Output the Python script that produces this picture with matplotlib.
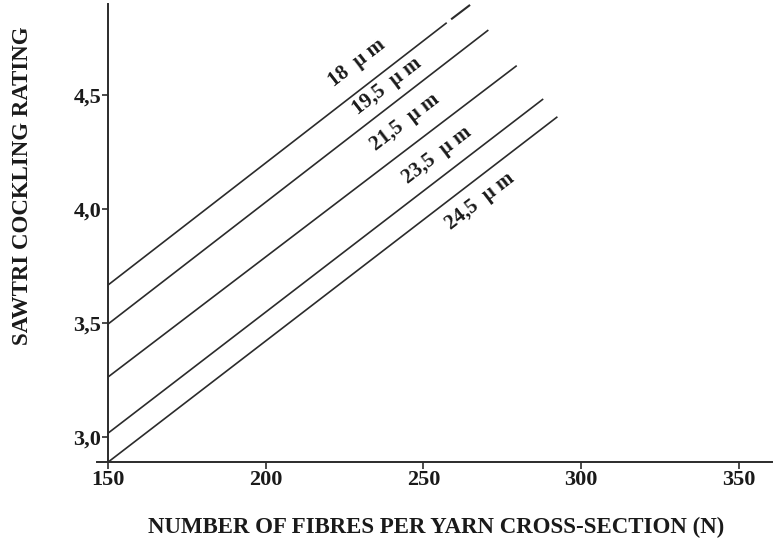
import matplotlib
matplotlib.use("Agg")
import matplotlib.pyplot as plt

plt.rcParams["font.family"] = ["Liberation Serif", "DejaVu Serif"]

# fibre diameter curves
labels = ["18", "19,5", "21,5", "23,5", "24,5"]
start_x = [150, 150, 150, 150, 150]
start_y = [3.668, 3.497, 3.265, 3.019, 2.892]
end_x = [257.4, 270.6, 279.6, 288.0, 292.5]
end_y = [4.817, 4.785, 4.629, 4.483, 4.405]

# short dash that continues the 18 um line after a small gap
dash_x = [258.8, 264.8]
dash_y = [4.832, 4.895]

# label centres for each curve
label_x = [229.0, 238.4, 244.2, 254.2, 267.9]
label_y = [4.639, 4.537, 4.383, 4.238, 4.033]

x_ticks = [150, 200, 250, 300, 350]
y_ticks = [3.0, 3.5, 4.0, 4.5]
y_tick_labels = ["3,0", "3,5", "4,0", "4,5"]

ink = "#2b2b2b"

fig = plt.figure(figsize=(7.73, 5.48), dpi=100)
ax = fig.add_axes([0.1255, 0.1575, 0.873, 0.8356])

for x0, y0, x1, y1 in zip(start_x, start_y, end_x, end_y):
    ax.plot([x0, x1], [y0, y1], color=ink, lw=1.2, solid_capstyle="butt")
ax.plot(dash_x, dash_y, color=ink, lw=1.5, solid_capstyle="butt")

for lab, lx, ly in zip(labels, label_x, label_y):
    ax.text(lx, ly, lab + "  \u00b5 m", rotation=37.7, ha="center", va="center",
            fontsize=15, fontweight="bold", color="#1a1a1a",
            rotation_mode="anchor")

ax.set_xlim(146.5, 360.5)
ax.set_ylim(2.894, 4.9)

for side in ("top", "right"):
    ax.spines[side].set_visible(False)
ax.spines["left"].set_position(("data", 150))
for side in ("left", "bottom"):
    ax.spines[side].set_color(ink)
    ax.spines[side].set_linewidth(1.4)

ax.set_xticks(x_ticks)
ax.set_xticklabels([str(v) for v in x_ticks])
ax.set_yticks(y_ticks)
ax.set_yticklabels(y_tick_labels)
ax.tick_params(axis="both", color=ink, width=1.2, labelsize=16, labelcolor="#1a1a1a")
ax.tick_params(axis="x", length=5, pad=1)
ax.tick_params(axis="y", length=4, pad=1)
for t in ax.get_xticklabels() + ax.get_yticklabels():
    t.set_fontweight("bold")

fig.text(436.5 / 773, 1 - 527 / 548, "NUMBER OF FIBRES PER YARN CROSS-SECTION (N)",
         ha="center", va="center", fontsize=16.5, fontweight="bold", color="#1a1a1a")
fig.text(23 / 773, 1 - 186 / 548, "SAWTRI COCKLING RATING", rotation=90,
         ha="center", va="center", fontsize=16.5, fontweight="bold", color="#1a1a1a")

fig.savefig("out.png", dpi=100)
